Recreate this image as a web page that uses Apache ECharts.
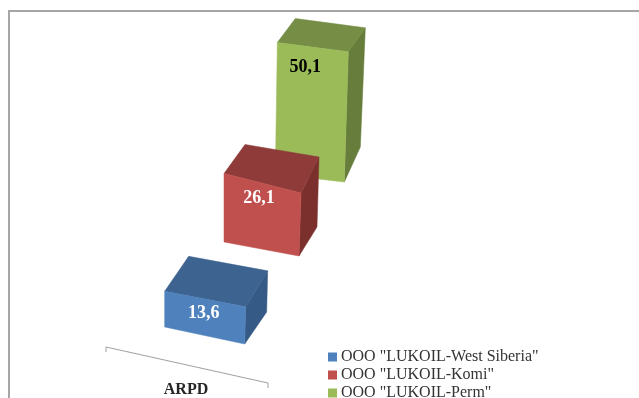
<!DOCTYPE html>
<html>
<head>
<meta charset="utf-8">
<style>
html,body{margin:0;padding:0;background:#fff;overflow:hidden}
#main{width:639px;height:398px}
</style>
<script src="https://cdn.jsdelivr.net/npm/echarts@6/dist/echarts.min.js"></script>
</head>
<body>
<div id="main"></div>
<script>
// data
var categoryName = 'ARPD';
var companies = ['OOO "LUKOIL-West Siberia"', 'OOO "LUKOIL-Komi"', 'OOO "LUKOIL-Perm"'];
var values = [13.6, 26.1, 50.1];

// face colours per company: front, top, side
var frontColors = ['#4f81bd', '#c0504d', '#9bbb59'];
var topColors = ['#3d6390', '#8e3b39', '#758d45'];
var sideColors = ['#355a85', '#7c302e', '#667d3b'];
var labelColors = ['#ffffff', '#ffffff', '#000000'];

// perspective of each box in pixels, height itself comes from the value axis
var boxes = [
    {dx: -40, lift: 0, w: 80, drop: 17, leanL: 0, leanR: 1, rightK: 1.04, backL: [24, -35], backR: [22, -36], sideB: [22, -32], label: [39, -14]},
    {dx: -34, lift: 85, w: 75, drop: 14, leanL: 0, leanR: 2, rightK: 0.92, backL: [21, -29], backR: [18, -36], sideB: [18, -29], label: [35, -44]},
    {dx: -36, lift: 153, w: 69, drop: 8, leanL: 2, leanR: 4, rightK: 0.99, backL: [18, -24], backR: [17, -24], sideB: [16, -35], label: [30, -107]}
];

function face(points, color) {
    return {
        type: 'polygon',
        shape: {points: points},
        style: {fill: color, stroke: color, lineWidth: 0.5}
    };
}

function renderBox(params, api) {
    var i = api.value(0);
    var b = boxes[i];
    var base = api.coord([i, 0]);
    var h = api.size([0, api.value(1)])[1];

    var bl = [base[0] + b.dx, base[1] - b.lift];
    var br = [bl[0] + b.w, bl[1] + b.drop];
    var tl = [bl[0] + b.leanL, bl[1] - h];
    var tr = [br[0] + b.leanR, br[1] - h * b.rightK];
    var backL = [tl[0] + b.backL[0], tl[1] + b.backL[1]];
    var backR = [tr[0] + b.backR[0], tr[1] + b.backR[1]];
    var sideB = [br[0] + b.sideB[0], br[1] + b.sideB[1]];

    return {
        type: 'group',
        children: [
            face([tr, backR, sideB, br], sideColors[i]),
            face([tl, backL, backR, tr], topColors[i]),
            face([tl, tr, br, bl], frontColors[i]),
            {
                type: 'text',
                style: {
                    x: bl[0] + b.label[0],
                    y: bl[1] + b.label[1],
                    text: api.value(1).toFixed(1).replace('.', ','),
                    fill: labelColors[i],
                    font: 'bold 18px "Liberation Serif"',
                    align: 'center',
                    verticalAlign: 'middle'
                }
            }
        ]
    };
}

// one custom series per company, back box drawn first
var series = companies.map(function (name, i) {
    return {
        name: name,
        type: 'custom',
        renderItem: renderBox,
        coordinateSystem: 'cartesian2d',
        clip: false,
        silent: true,
        z: 10 - i,
        itemStyle: {color: frontColors[i]},
        encode: {x: 0, y: 1},
        data: [[i, values[i]]]
    };
});

var chart = echarts.init(document.getElementById('main'), null, {renderer: 'canvas'});
chart.setOption({
    animation: false,
    backgroundColor: '#ffffff',
    grid: {left: 178, width: 160, top: 12, height: 315},
    xAxis: {type: 'category', data: companies, show: false},
    yAxis: {type: 'value', min: 0, max: 120, show: false},
    legend: {
        orient: 'vertical',
        left: 328,
        top: 349,
        height: 90,
        itemWidth: 9,
        itemHeight: 9,
        itemGap: 2,
        padding: 0,
        icon: 'rect',
        selectedMode: false,
        textStyle: {fontFamily: 'Liberation Serif', fontSize: 16, color: '#333333', padding: [0, 0, 0, -1]},
        data: companies
    },
    series: series,
    graphic: [
        // chart frame, open at the bottom and right
        {type: 'polyline', silent: true, shape: {points: [[9, 398], [9, 11], [639, 11]]}, style: {stroke: '#a6a6a6', lineWidth: 2, fill: null}},
        // slanted category axis
        {type: 'polyline', silent: true, shape: {points: [[106, 352], [106, 347], [268, 383], [268, 388]]}, style: {stroke: '#a0a0a0', lineWidth: 1, fill: null}},
        {type: 'text', silent: true, style: {x: 186, y: 390, text: categoryName, fill: '#262626', font: 'bold 16px "Liberation Serif"', align: 'center', verticalAlign: 'middle'}}
    ]
});
</script>
</body>
</html>
